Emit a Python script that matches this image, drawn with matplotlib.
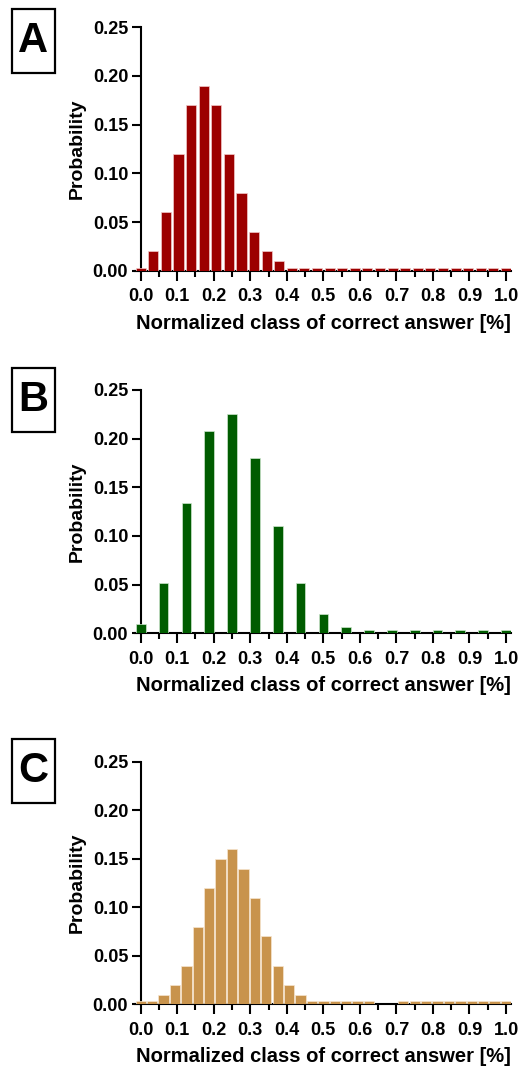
import numpy as np
import matplotlib
matplotlib.use('Agg')
import matplotlib.pyplot as plt
from matplotlib.patches import Rectangle

plt.rcParams['font.family'] = ['Liberation Sans', 'DejaVu Sans']
plt.rcParams['font.weight'] = 'bold'

# panel A: 30 classes at k/29
a_x = np.arange(30) / 29
a_p = [0.003, 0.02, 0.06, 0.12, 0.17, 0.19, 0.17, 0.12, 0.08, 0.04, 0.02, 0.01] + [0.003] * 18

# panel B: 17 classes at k/16
b_x = np.arange(17) / 16
b_p = [0.01, 0.052, 0.134, 0.208, 0.225, 0.18, 0.11, 0.052, 0.02, 0.006] + [0.003] * 7

# panel C: 33 classes at k/32
c_x = np.arange(33) / 32
c_p = ([0.003, 0.003, 0.01, 0.02, 0.04, 0.08, 0.12, 0.15, 0.16, 0.14, 0.11, 0.07,
        0.04, 0.02, 0.01] + [0.003] * 6 + [0, 0] + [0.003] * 10)

panels = [
    ('A', a_x, a_p, '#9C0000', '#F2C9C9', 0.0276),
    ('B', b_x, b_p, '#005C00', '#CDE6CD', 0.0265),
    ('C', c_x, c_p, '#C8934C', '#F6E6CF', 0.0283),
]

W, H = 521, 1067
fig = plt.figure(figsize=(W / 100, H / 100), dpi=100)

# (y of 0.00, y of 0.25, box top, box bottom) in pixels from the top
rows = [(270.7, 27.3, 9.3, 72.7), (633.3, 390.0, 368.3, 431.7), (1004.3, 762.0, 739.3, 803.3)]

x0, x1 = -0.015, 1.015
left_px = 140.7 + x0 * 365.3
right_px = 506.0 + (x1 - 1) * 365.3

for (letter, xs, ps, col, edge, w), (yb, yt, bt, bb) in zip(panels, rows):
    ax = fig.add_axes([left_px / W, 1 - yb / H, (right_px - left_px) / W, (yb - yt) / H])
    ax.bar(xs, ps, width=w, color=col, edgecolor=edge, linewidth=0.5, zorder=2)
    ax.set_xlim(x0, x1)
    ax.set_ylim(0, 0.25)
    ax.spines['top'].set_visible(False)
    ax.spines['right'].set_visible(False)
    ax.spines['left'].set_position(('data', 0))
    for s in ['left', 'bottom']:
        ax.spines[s].set_linewidth(1.5)
        ax.spines[s].set_zorder(1)
    ax.set_xticks(np.arange(0, 1.01, 0.1))
    ax.set_xticks(np.arange(0.05, 1.0, 0.1), minor=True)
    ax.set_xticklabels(['%.1f' % v for v in np.arange(0, 1.01, 0.1)])
    ax.set_yticks(np.arange(0, 0.251, 0.05))
    ax.set_yticklabels(['%.2f' % v for v in np.arange(0, 0.251, 0.05)])
    ax.tick_params(axis='x', which='major', length=7.2, width=1.5, labelsize=13, pad=5.5)
    ax.tick_params(axis='x', which='minor', length=4.5, width=1.5)
    ax.tick_params(axis='y', length=6.5, width=1.5, labelsize=13, pad=2.5)
    for t in ax.get_xticklabels() + ax.get_yticklabels():
        t.set_fontweight('bold')
    ax.set_xlabel('Normalized class of correct answer [%]', fontsize=14.5, fontweight='bold', labelpad=6)
    ax.set_ylabel('Probability', fontsize=14, fontweight='bold', labelpad=5)
    ax.patch.set_alpha(0)

    # panel letter in a box
    bl, br = 11.5, 55.0
    fig.add_artist(Rectangle((bl / W, 1 - bb / H), (br - bl) / W, (bb - bt) / H,
                             transform=fig.transFigure, fill=False, edgecolor='black', linewidth=1.6))
    fig.text((bl + br) / 2 / W, 1 - (bt + bb) / 2 / H, letter, ha='center', va='center',
             fontsize=30, fontweight='bold')

fig.savefig('out.png', dpi=100)
